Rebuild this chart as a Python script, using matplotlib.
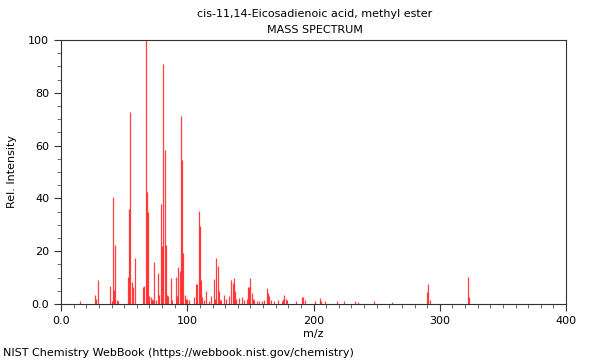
import matplotlib
matplotlib.use("Agg")
import matplotlib.pyplot as plt
from matplotlib.ticker import MultipleLocator, FixedLocator

title_name = "cis-11,14-Eicosadienoic acid, methyl ester"
title_kind = "MASS SPECTRUM"
footer = "NIST Chemistry WebBook (https://webbook.nist.gov/chemistry)"

mz = [15, 27, 28, 29, 39, 40, 41, 42, 43, 44, 45,
      53, 54, 55, 56, 57, 59, 65, 66, 67, 68, 69, 70, 71, 72, 73, 74, 75,
      77, 78, 79, 80, 81, 82, 83, 84, 85, 87, 88, 91, 92, 93, 94, 95, 96,
      97, 98, 99, 100, 101, 105, 107, 108, 109, 110, 111, 112, 113, 115,
      117, 119, 121, 122, 123, 124, 125, 126, 127, 129, 131, 133, 135, 136,
      137, 138, 139, 141, 143, 145, 147, 148, 149, 150, 151, 152, 153, 155,
      157, 159, 161, 163, 164, 165, 166, 169, 172, 175, 176, 177, 178, 179,
      186, 191, 192, 193, 201, 205, 206, 209, 219, 224, 233, 235, 248, 262,
      290, 291, 292, 322, 323]
intensity = [1.0, 3.4, 2.0, 9.0, 6.8, 1.0, 40.6, 5.3, 22.3, 1.5, 1.0,
             10.3, 36.0, 72.8, 8.2, 6.6, 17.3, 6.5, 6.8, 100.0, 42.5, 35.0, 3.0, 2.5, 2.0, 1.5, 16.0, 1.5,
             11.7, 3.5, 38.0, 22.0, 91.0, 58.5, 22.3, 3.5, 3.0, 9.8, 1.5, 10.3, 3.0, 13.9, 12.5, 71.2, 54.5,
             19.4, 3.5, 2.0, 2.0, 1.5, 2.5, 7.6, 7.6, 35.4, 29.4, 9.0, 2.5, 1.5, 5.0,
             1.0, 3.0, 9.3, 2.0, 17.3, 14.4, 5.0, 1.5, 1.5, 3.4, 2.0, 2.9, 9.1, 8.0,
             9.7, 5.0, 2.0, 2.3, 2.5, 1.5, 2.0, 6.6, 6.6, 10.0, 4.3, 2.0, 1.5, 1.0,
             1.0, 1.0, 1.5, 5.9, 4.3, 3.0, 1.5, 1.0, 1.5, 1.0, 2.0, 3.4, 2.0, 1.5,
             1.0, 2.5, 2.8, 1.5, 1.0, 2.3, 1.0, 1.0, 1.0, 1.0, 1.0, 0.8, 1.2, 0.8,
             4.4, 7.6, 1.5, 10.4, 2.5]

x_major = [0, 100, 200, 300, 400]
x_labels = ["0.0", "100", "200", "300", "400"]
y_major = [0, 20, 40, 60, 80, 100]
y_labels = ["0.0", "20", "40", "60", "80", "100"]

plt.rcParams['font.family'] = ['DejaVu Sans']
fig = plt.figure(figsize=(6, 3.6), dpi=100)
ax = fig.add_axes([61/600, 1 - 304/360, 505/600, 264/360])

ax.vlines(mz, 0, intensity, colors='#ff0000', linewidth=0.9, alpha=0.75)

ax.set_xlim(0, 400)
ax.set_ylim(0, 100)
ax.xaxis.set_major_locator(FixedLocator(x_major))
ax.set_xticklabels(x_labels)
ax.yaxis.set_major_locator(FixedLocator(y_major))
ax.set_yticklabels(y_labels)
ax.xaxis.set_minor_locator(MultipleLocator(10))
ax.yaxis.set_minor_locator(MultipleLocator(5))
ax.tick_params(axis='both', which='major', labelsize=8, length=5, width=0.8, direction='out', color='#333333')
ax.tick_params(axis='both', which='minor', length=3, width=0.6, direction='out', color='#555555')
for s in ax.spines.values():
    s.set_color('#333333')
    s.set_linewidth(0.8)

ax.set_xlabel("m/z", fontsize=8, labelpad=2)
ax.set_ylabel("Rel. Intensity", fontsize=8, labelpad=8)

fig.text(0.525, 1 - 14/360, title_name, ha='center', va='center', fontsize=8)
fig.text(0.525, 1 - 30/360, title_kind, ha='center', va='center', fontsize=8)
fig.text(3/600, 1 - 353/360, footer, ha='left', va='center', fontsize=8)

fig.savefig("out.png", dpi=100)
